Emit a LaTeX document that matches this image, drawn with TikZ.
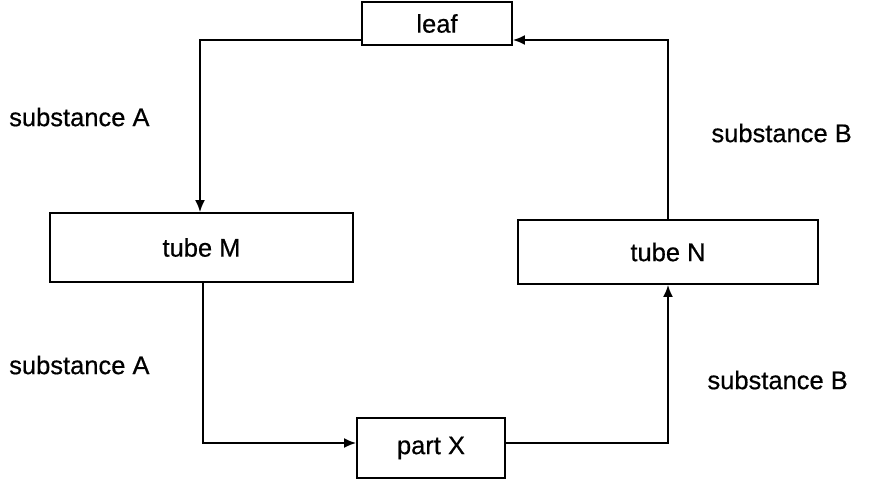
\documentclass[tikz,border=0pt]{standalone}
\usepackage{fontspec}
\setmainfont{Liberation Sans}[FakeBold=0.6]
\usetikzlibrary{arrows.meta}
\begin{document}
\begin{tikzpicture}[x=1pt,y=-1pt,
  box/.style={draw, line width=1.8pt, minimum height=0pt, inner sep=0pt, font=\fontsize{25.5}{28}\selectfont},
  lbl/.style={font=\fontsize{25.5}{28}\selectfont, inner sep=0pt},
  flow/.style={line width=2pt, -{Latex[length=12pt,width=10pt]}}]
\useasboundingbox (0,0) rectangle (872,482);
\node[box, minimum width=150pt, minimum height=43pt] (leaf) at (437,23.5) {leaf};
\node[box, minimum width=303pt, minimum height=69pt] (M) at (201.5,247.5) {tube M};
\node[box, minimum width=300pt, minimum height=64pt] (N) at (668,252) {tube N};
\node[box, minimum width=148pt, minimum height=60pt] (X) at (431,448) {part X};
\coordinate (c1) at (200,40);
\coordinate (c2) at (203,443);
\coordinate (c3) at (668,443);
\coordinate (c4) at (668,40);
\draw[flow] (leaf.west |- c1) -- (c1) -- (c1 |- M.north);
\draw[flow] (c2 |- M.south) -- (c2) -- (X.west |- c2);
\draw[flow] (X.east |- c3) -- (c3) -- (N.south);
\draw[flow] (N.north) -- (c4) -- (leaf.east |- c4);
\node[lbl, anchor=west] (a1) at (9,117) {substance A};
\node[lbl, anchor=west] (a2) at (9,365) {substance A};
\node[lbl, anchor=east] (b1) at (852,133) {substance B};
\node[lbl, anchor=east] (b2) at (848,380) {substance B};
\end{tikzpicture}
\end{document}
